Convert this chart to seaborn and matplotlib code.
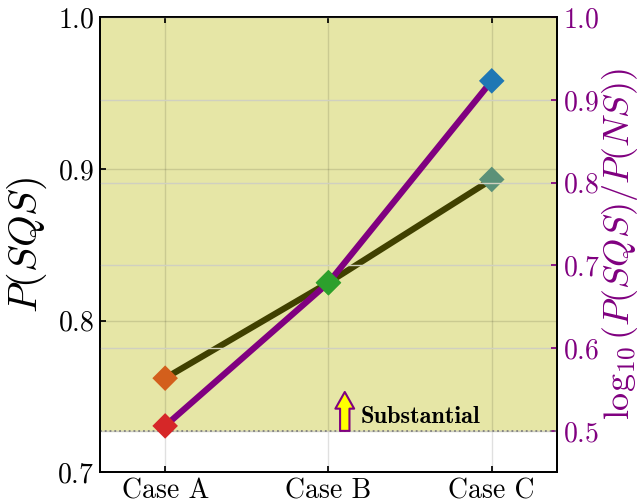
import numpy as np
import pandas as pd
import matplotlib
matplotlib.use("Agg")
import matplotlib.pyplot as plt
import seaborn as sns

# values
cases = ["Case A", "Case B", "Case C"]
p_sqs = [0.762, 0.825, 0.893]
log_ratio = [0.506, 0.679, 0.923]
sqs_colors = ["#d35f1c", "#5aa832", "#5b9178"]
ratio_colors = ["#d62728", "#2ca02c", "#1f77b4"]
threshold = 0.5
left_ticks = [0.7, 0.8, 0.9, 1.0]
right_ticks = [0.5, 0.6, 0.7, 0.8, 0.9, 1.0]

sns.set_theme(style="ticks", rc={"text.color": "black", "axes.labelcolor": "black",
                                 "xtick.color": "black", "ytick.color": "black"})
plt.rcParams["font.family"] = ["cmr10", "DejaVu Serif"]
plt.rcParams["mathtext.fontset"] = "cm"
plt.rcParams["axes.unicode_minus"] = False
plt.rcParams["axes.formatter.use_mathtext"] = True

df = pd.DataFrame({"x": np.arange(len(cases)), "case": cases,
                   "p_sqs": p_sqs, "log_ratio": log_ratio})

fig = plt.figure(figsize=(6.44, 5.04), dpi=100)
ax = fig.add_axes([0.155, 0.063, 0.71, 0.903])
ax2 = ax.twinx()

ax.set_xlim(-0.4, 2.4)
ax.set_ylim(0.7, 1.0)
ax2.set_ylim(0.45, 1.0)

# shaded "substantial" band, threshold given on the right scale
thr_left = ax.transData.inverted().transform(ax2.transData.transform((0, threshold)))[1]
ax.axhspan(thr_left, 1.0, color="#e6e6a6", zorder=0, lw=0)
ax.grid(True, color="black", alpha=0.12, lw=1)
ax2.grid(True, axis="y", color="#d0d0c0", lw=1)
ax2.axhline(threshold, color="grey", ls=":", lw=1.3)

# left axis: P(SQS)
sns.lineplot(data=df, x="x", y="p_sqs", ax=ax, color="#404000", lw=4.5, zorder=3)
sns.scatterplot(data=df, x="x", y="p_sqs", hue="case", palette=sqs_colors, marker="D",
                s=170, edgecolor="none", legend=False, ax=ax, zorder=4)

# right axis: log ratio
sns.lineplot(data=df, x="x", y="log_ratio", ax=ax2, color="#800080", lw=4.5, zorder=3)
sns.scatterplot(data=df, x="x", y="log_ratio", hue="case", palette=ratio_colors, marker="D",
                s=170, edgecolor="none", legend=False, ax=ax2, zorder=4)

ax2.annotate("", xy=(1.1, 0.547), xytext=(1.1, threshold),
             arrowprops=dict(arrowstyle="simple,head_length=0.8,head_width=0.9,tail_width=0.45",
                             fc="yellow", ec="purple", lw=1.5, shrinkA=0, shrinkB=0,
                             mutation_scale=15), zorder=5)
ax2.text(1.2, 0.517, "Substantial", fontfamily="cmb10", fontsize=17.5, va="center",
         color="black")

ax.set_xticks(df["x"])
ax.set_xticklabels(cases)
ax.set_yticks(left_ticks)
ax2.set_yticks(right_ticks)
ax.set_xlabel("")
ax.set_ylabel(r"$P(SQS)$", fontsize=29, labelpad=6)
ax2.set_ylabel(r"$\log_{10}(P(SQS)/P(NS))$", fontsize=26, color="purple", labelpad=0)

ax.tick_params(axis="both", direction="in", labelsize=20, length=4, top=True, pad=4)
ax.tick_params(axis="y", right=False)
ax2.tick_params(axis="y", direction="in", labelsize=20, length=4, colors="purple", pad=4)
for a in (ax, ax2):
    for s in a.spines.values():
        s.set_color("black")
        s.set_linewidth(1.3)

fig.savefig("out.png", dpi=100)
